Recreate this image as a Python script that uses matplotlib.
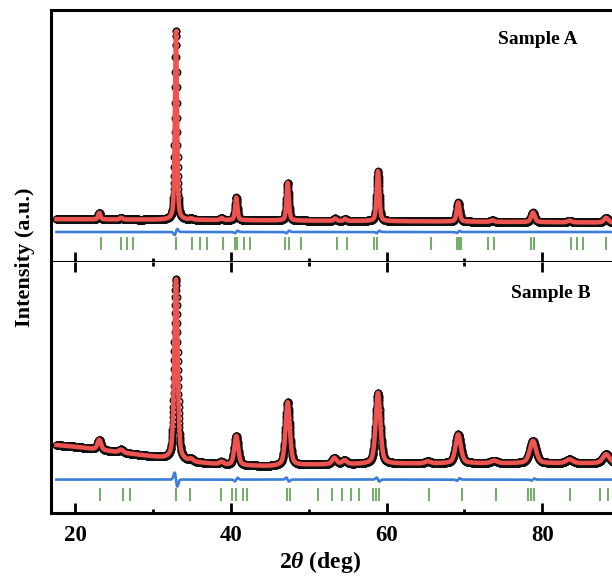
import numpy as np
import matplotlib.pyplot as plt
from matplotlib.ticker import MultipleLocator

plt.rcParams['font.family'] = 'Liberation Serif'
plt.rcParams['font.weight'] = 'bold'
plt.rcParams['mathtext.fontset'] = 'custom'
plt.rcParams['mathtext.it'] = 'Liberation Serif:italic:bold'
plt.rcParams['mathtext.rm'] = 'Liberation Serif:bold'

# scan range (deg) and step
two_theta = np.arange(17.6, 90.0, 0.02)

# --- Sample A ---
bgA_x = [17, 40, 60, 90]
bgA_y = [17.0, 16.6, 16.2, 15.6]
peakA_pos = [23.1, 25.9, 32.95, 34.9, 38.8, 40.7, 47.3, 53.4, 54.7, 58.9, 69.2, 73.6, 78.8, 83.5, 88.2]
peakA_hgt = [2.6, 0.7, 75.0, 0.5, 0.8, 9.0, 15.0, 0.9, 0.8, 19.8, 7.6, 0.6, 3.8, 0.7, 1.9]
peakA_fwhm = [0.35, 0.4, 0.32, 0.4, 0.4, 0.35, 0.36, 0.4, 0.4, 0.4, 0.45, 0.5, 0.55, 0.6, 0.65]
diffA_level = 11.9
diffA_pos = [32.95, 40.7, 47.3, 58.9, 69.2]
diffA_amp = [1.2, 0.5, 0.5, 0.5, 0.4]
braggA = [23.3, 25.9, 26.6, 27.4, 33.0, 35.0, 36.0, 37.0, 39.0, 40.5, 40.8, 41.7, 42.4,
          47.0, 47.5, 49.0, 53.6, 54.9, 58.4, 58.8, 65.7, 69.0, 69.3, 69.6, 73.0, 73.8,
          78.6, 78.9, 83.7, 84.4, 85.2, 88.2]

# --- Sample B ---
bgB_x = [17, 20, 25, 30, 35, 40, 45, 50, 60, 70, 90]
bgB_y = [27.2, 26.4, 24.4, 22.4, 20.2, 19.0, 18.6, 19.2, 19.6, 19.8, 19.8]
peakB_pos = [23.1, 25.9, 32.95, 34.9, 38.8, 40.7, 47.3, 53.3, 54.6, 58.9, 65.3, 69.2, 73.8, 78.8, 83.5, 88.2]
peakB_hgt = [4.0, 1.2, 72.0, 1.0, 1.0, 11.7, 25.2, 2.5, 1.5, 28.3, 0.8, 11.5, 1.0, 8.9, 1.5, 3.6]
peakB_fwhm = [0.55, 0.6, 0.5, 0.6, 0.6, 0.6, 0.65, 0.7, 0.7, 0.7, 0.8, 0.8, 0.9, 0.95, 1.0, 1.0]
diffB_level = 13.3
diffB_pos = [32.95, 40.7, 47.3, 58.9, 69.2, 78.8]
diffB_amp = [-2.8, 0.7, -0.8, -0.8, 0.5, 0.4]
braggB = [23.2, 26.1, 27.0, 33.0, 34.8, 38.8, 40.2, 40.6, 41.5, 42.1, 47.2, 47.6, 51.2,
          53.0, 54.3, 55.4, 56.5, 58.2, 58.6, 59.0, 65.4, 69.7, 74.1, 78.2, 78.6, 78.9,
          83.5, 87.4, 88.4]


def pseudo_voigt(x, x0, h, fwhm, eta=0.45):
    d2 = 4 * (x - x0) ** 2 / fwhm ** 2
    return h * (eta / (1 + d2) + (1 - eta) * np.exp(-np.log(2) * d2))


def profile(bg_x, bg_y, pos, hgt, fwhm):
    y = np.interp(two_theta, bg_x, bg_y)
    for p, h, w in zip(pos, hgt, fwhm):
        y = y + pseudo_voigt(two_theta, p, h, w)
    return y


def difference(level, pos, amp, w=0.25):
    d = np.full_like(two_theta, level)
    for p, a in zip(pos, amp):
        u = (two_theta - p) / w
        d = d + a * u * np.exp(-u ** 2) * 2.3
    return d


fig = plt.figure(figsize=(6.12, 5.77), dpi=100)
ax1 = fig.add_axes([0.0833, 0.546, 0.93, 0.4367])
ax2 = fig.add_axes([0.0833, 0.111, 0.93, 0.435])

panels = [
    (ax1, profile(bgA_x, bgA_y, peakA_pos, peakA_hgt, peakA_fwhm),
     difference(diffA_level, diffA_pos, diffA_amp), braggA),
    (ax2, profile(bgB_x, bgB_y, peakB_pos, peakB_hgt, peakB_fwhm),
     difference(diffB_level, diffB_pos, diffB_amp), braggB),
]

for ax, obs, diff, bragg in panels:
    ax.plot(two_theta, obs, 'o', ms=4.6, mfc='none', mec='#111111', mew=1.1, zorder=2)
    ax.plot(two_theta, obs, '-', color='#ef5350', lw=3.2, zorder=3)
    ax.plot(two_theta, diff, '-', color='#3b7dd8', lw=1.9, zorder=3)
    ax.vlines(bragg, 4.8, 10.1, color='#4a9a3a', lw=1.1, zorder=3)
    ax.set_xlim(16.9, 90)
    ax.set_ylim(0, 100)
    ax.set_yticks([])
    ax.xaxis.set_major_locator(MultipleLocator(20))
    ax.xaxis.set_minor_locator(MultipleLocator(10))
    for s in ax.spines.values():
        s.set_linewidth(2.2)

ax1.tick_params(axis='x', which='major', direction='in', length=7, width=2, labelbottom=False)
ax1.tick_params(axis='x', which='minor', direction='in', length=3, width=2)

ax2.spines['top'].set_visible(False)
ax2.tick_params(axis='x', which='major', direction='in', length=7, width=2,
                top=True, labelsize=16.5, pad=9)
ax2.tick_params(axis='x', which='minor', direction='in', length=3, width=2, top=True)

ax2.set_xlabel(r'2$\theta$ (deg)', fontsize=17, fontweight='bold', labelpad=2)
ax2.xaxis.label.set_x(0.472)
fig.text(0.041, 0.555, 'Intensity (a.u.)', rotation=90, fontsize=16,
         fontweight='bold', ha='center', va='center')
fig.text(0.879, 0.931, 'Sample A', fontsize=14, fontweight='bold', ha='center', va='center')
fig.text(0.900, 0.492, 'Sample B', fontsize=14, fontweight='bold', ha='center', va='center')

fig.savefig('out.png', dpi=100)
